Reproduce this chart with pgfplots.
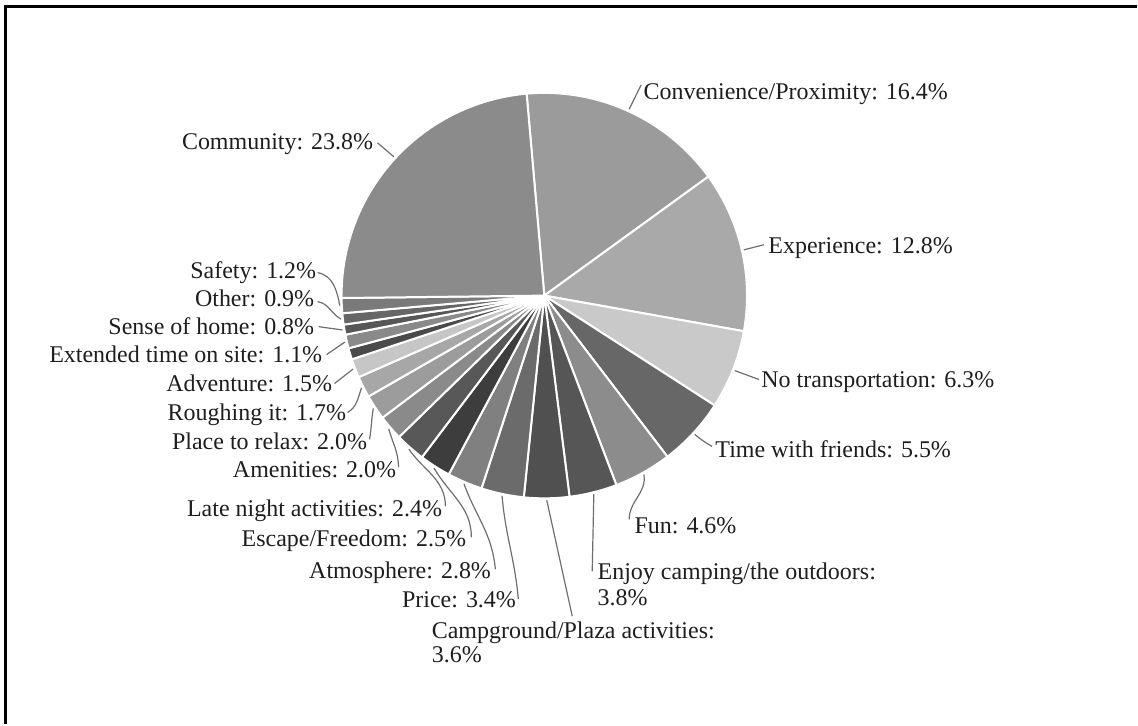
\documentclass[border=0pt]{standalone}
\usepackage{fontspec}
\setmainfont{Liberation Serif}
\usepackage{pgfplots}
\pgfplotsset{compat=1.18}
\definecolor{cConv}{HTML}{9B9B9B}
\definecolor{cExp}{HTML}{A9A9A9}
\definecolor{cNoT}{HTML}{C9C9C9}
\definecolor{cTime}{HTML}{676767}
\definecolor{cFun}{HTML}{8C8C8C}
\definecolor{cEnjoy}{HTML}{565656}
\definecolor{cCamp}{HTML}{505050}
\definecolor{cPrice}{HTML}{6B6B6B}
\definecolor{cAtm}{HTML}{808080}
\definecolor{cEsc}{HTML}{3D3D3D}
\definecolor{cLate}{HTML}{585858}
\definecolor{cAmen}{HTML}{8A8A8A}
\definecolor{cPlace}{HTML}{9C9C9C}
\definecolor{cRough}{HTML}{A7A7A7}
\definecolor{cAdv}{HTML}{C6C6C6}
\definecolor{cSliver}{HTML}{4A4A4A}
\definecolor{cExt}{HTML}{8A8A8A}
\definecolor{cSense}{HTML}{575757}
\definecolor{cOther}{HTML}{666666}
\definecolor{cSafety}{HTML}{7A7A7A}
\definecolor{cComm}{HTML}{8B8B8B}
\definecolor{ldrc}{HTML}{6E6E6E}
\definecolor{txt}{HTML}{1E1E1E}
% pie centre (545,296), radius 203 (pixel units), start angle 95 deg, clockwise
\xdef\cum{95}
\newcommand\slice[2]{%
  \pgfmathsetmacro\sa{\cum}%
  \pgfmathsetmacro\sb{\cum-#1*3.6}%
  \xdef\cum{\sb}%
  \edef\doslice{\noexpand\addplot[fill=#2, draw=white, line width=1pt, line join=round,
     domain=\sb:\sa, samples=50, variable=\noexpand\t]
     ({545+203*cos(\noexpand\t)},{296-203*sin(\noexpand\t)}) -- (axis cs:545,296) -- cycle;}%
  \doslice}
\tikzset{
  lbl/.style={font=\fontsize{12}{14}\selectfont, text=txt, inner sep=0pt},
  ldr/.style={draw=ldrc, line width=0.6pt}
}
\begin{document}
\begin{tikzpicture}
\begin{axis}[x=0.5pt, y=0.5pt, xmin=0, xmax=1138, ymin=0, ymax=725,
  y dir=reverse, hide axis, clip=false, scale only axis]
\path (axis cs:0,0) rectangle (axis cs:1138,725);
\draw[line width=1.5pt] (axis cs:6,725) -- (axis cs:6,7) -- (axis cs:1138,7);
% slices (percent values)
\slice{16.4}{cConv}
\slice{12.8}{cExp}
\slice{6.3}{cNoT}
\slice{5.5}{cTime}
\slice{4.6}{cFun}
\slice{3.8}{cEnjoy}
\slice{3.6}{cCamp}
\slice{3.4}{cPrice}
\slice{2.8}{cAtm}
\slice{2.5}{cEsc}
\slice{2.4}{cLate}
\slice{2.0}{cAmen}
\slice{2.0}{cPlace}
\slice{1.7}{cRough}
\slice{1.5}{cAdv}
\slice{0.9}{cSliver}
\slice{1.1}{cExt}
\slice{0.8}{cSense}
\slice{0.9}{cOther}
\slice{1.2}{cSafety}
\slice{23.8}{cComm}
% leader lines
\draw[ldr] (axis cs:394.4,157) -- (axis cs:378,143);
\draw[ldr] (axis cs:630,109.4) -- (axis cs:642,85);
\draw[ldr] (axis cs:744.8,250.2) -- (axis cs:765,245);
\draw[ldr] (axis cs:735.7,371.1) -- (axis cs:760,380);
\draw[ldr] (axis cs:695.7,435) to[out=-40,in=150] (axis cs:713,447);
\draw[ldr] (axis cs:644.7,475.1) to[out=-80,in=90] (axis cs:630,520);
\draw[ldr] (axis cs:594.6,494.9) -- (axis cs:593,572);
\draw[ldr] (axis cs:547.5,501) -- (axis cs:573,617);
\draw[ldr] (axis cs:502.7,496.6) to[out=-85,in=95] (axis cs:519,600);
\draw[ldr] (axis cs:464.6,484.5) to[out=-70,in=95] (axis cs:496,570);
\draw[ldr] (axis cs:434.6,468.7) to[out=-60,in=90] (axis cs:472,538);
\draw[ldr] (axis cs:409.4,449.8) to[out=-55,in=90] (axis cs:446,507);
\draw[ldr] (axis cs:389.3,429.4) to[out=-75,in=90] (axis cs:399,468);
\draw[ldr] (axis cs:373.8,408.9) to[out=-100,in=80] (axis cs:370,440);
\draw[ldr] (axis cs:362,388.4) to[out=-110,in=30] (axis cs:348,413);
\draw[ldr] (axis cs:353.6,369.5) -- (axis cs:335,384);
\draw[ldr] (axis cs:345.4,342.5) -- (axis cs:327,355);
\draw[ldr] (axis cs:342.9,330.5) to[out=170,in=-10] (axis cs:319,327);
\draw[ldr] (axis cs:341.4,319.6) to[out=150,in=-10] (axis cs:318,302);
\draw[ldr] (axis cs:340.2,306) to[out=100,in=-10] (axis cs:318,273);
% labels
\node[lbl, anchor=base east] at (axis cs:374,150) {Community: 23.8\%};
\node[lbl, anchor=base west] at (axis cs:644,100) {Convenience/Proximity: 16.4\%};
\node[lbl, anchor=base west] at (axis cs:769,254) {Experience: 12.8\%};
\node[lbl, anchor=base west] at (axis cs:762,388) {No transportation: 6.3\%};
\node[lbl, anchor=base west] at (axis cs:716,458) {Time with friends: 5.5\%};
\node[lbl, anchor=base west] at (axis cs:635,534) {Fun: 4.6\%};
\node[lbl, anchor=base west] at (axis cs:598,580) {Enjoy camping/the outdoors:};
\node[lbl, anchor=base west] at (axis cs:598,606) {3.8\%};
\node[lbl, anchor=base west] at (axis cs:432,639) {Campground/Plaza activities:};
\node[lbl, anchor=base west] at (axis cs:432,663) {3.6\%};
\node[lbl, anchor=base east] at (axis cs:517,608) {Price: 3.4\%};
\node[lbl, anchor=base east] at (axis cs:492,579) {Atmosphere: 2.8\%};
\node[lbl, anchor=base east] at (axis cs:467,547) {Escape/Freedom: 2.5\%};
\node[lbl, anchor=base east] at (axis cs:443,517) {Late night activities: 2.4\%};
\node[lbl, anchor=base east] at (axis cs:397,478) {Amenities: 2.0\%};
\node[lbl, anchor=base east] at (axis cs:368,450) {Place to relax: 2.0\%};
\node[lbl, anchor=base east] at (axis cs:347,421) {Roughing it: 1.7\%};
\node[lbl, anchor=base east] at (axis cs:333,392) {Adventure: 1.5\%};
\node[lbl, anchor=base east] at (axis cs:323,363) {Extended time on site: 1.1\%};
\node[lbl, anchor=base east] at (axis cs:315,335) {Sense of home: 0.8\%};
\node[lbl, anchor=base east] at (axis cs:315,307) {Other: 0.9\%};
\node[lbl, anchor=base east] at (axis cs:317,279) {Safety: 1.2\%};
\end{axis}
\end{tikzpicture}
\end{document}
